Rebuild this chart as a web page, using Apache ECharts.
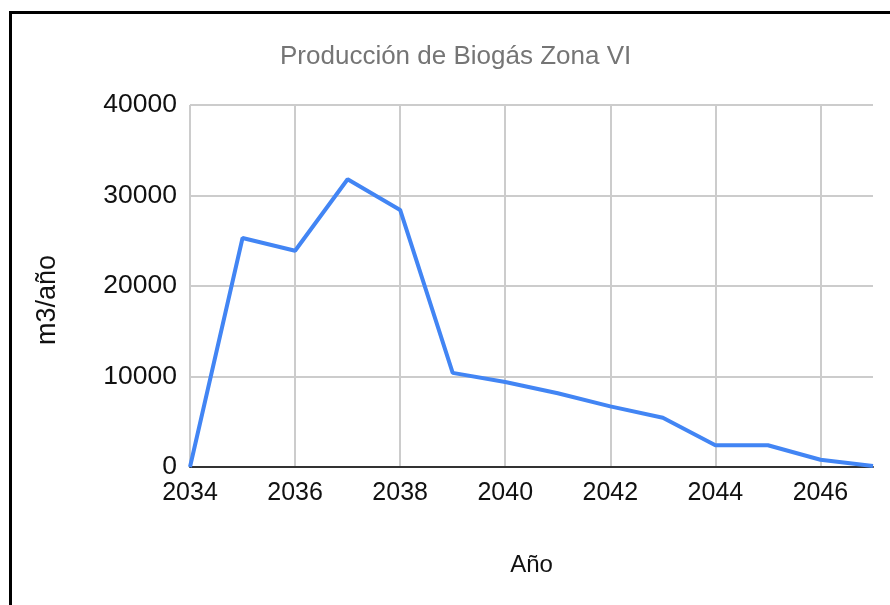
<!DOCTYPE html>
<html>
<head>
<meta charset="utf-8">
<script src="https://cdn.jsdelivr.net/npm/echarts@6/dist/echarts.min.js"></script>
<style>
  html, body { margin: 0; padding: 0; background: #fff; }
  #main { width: 890px; height: 605px; }
  .frame {
    position: absolute; left: 9px; top: 11px; right: 0; bottom: 0;
    border-top: 3px solid #000; border-left: 3px solid #000;
    pointer-events: none;
  }
</style>
</head>
<body>
<div id="main"></div>
<div class="frame"></div>
<script>
// años y producción (m3/año)
var years = ['2034', '2035', '2036', '2037', '2038', '2039', '2040',
             '2041', '2042', '2043', '2044', '2045', '2046', '2047'];
var produccion = [0, 25300, 23900, 31800, 28400, 10400, 9400,
                  8150, 6700, 5450, 2400, 2400, 800, 100];
var yTicks = { min: 0, max: 40000, interval: 10000 };

var chart = echarts.init(document.getElementById('main'));

var option = {
  animation: false,
  title: {
    text: 'Producción de Biogás Zona VI',
    left: 275,
    top: 39,
    textStyle: {
      color: '#757575',
      fontSize: 26,
      fontWeight: 'normal',
      fontFamily: 'Liberation Sans'
    }
  },
  grid: { left: 190, right: 17, top: 105, bottom: 138 },
  xAxis: {
    type: 'category',
    data: years,
    boundaryGap: false,
    name: 'Año',
    nameLocation: 'middle',
    nameGap: 86,
    nameTextStyle: { color: '#111', fontSize: 24, fontFamily: 'Liberation Sans' },
    axisLine: { lineStyle: { color: '#333', width: 2 } },
    axisTick: { show: false },
    axisLabel: {
      interval: 1,
      margin: 14,
      color: '#111',
      fontSize: 25,
      fontFamily: 'Liberation Sans'
    },
    splitLine: { show: true, interval: 1, lineStyle: { color: '#ccc', width: 2 } }
  },
  yAxis: {
    type: 'value',
    min: yTicks.min,
    max: yTicks.max,
    interval: yTicks.interval,
    name: 'm3/año',
    nameLocation: 'middle',
    nameGap: 129,
    nameTextStyle: {
      color: '#111',
      fontSize: 27,
      fontFamily: 'Liberation Sans',
      padding: [0, 28, 0, 0]
    },
    axisLine: { show: false },
    axisTick: { show: false },
    axisLabel: {
      margin: 13,
      color: '#111',
      fontSize: 26.5,
      fontFamily: 'Liberation Sans',
      formatter: function (v) { return String(v); }
    },
    splitLine: { lineStyle: { color: '#ccc', width: 2 } }
  },
  series: [{
    name: 'Producción',
    type: 'line',
    data: produccion,
    showSymbol: false,
    symbol: 'none',
    lineStyle: { color: '#4285f4', width: 4 },
    itemStyle: { color: '#4285f4' }
  }]
};

chart.setOption(option);
window.addEventListener('resize', function () {
  chart.resize();
});
</script>
</body>
</html>
